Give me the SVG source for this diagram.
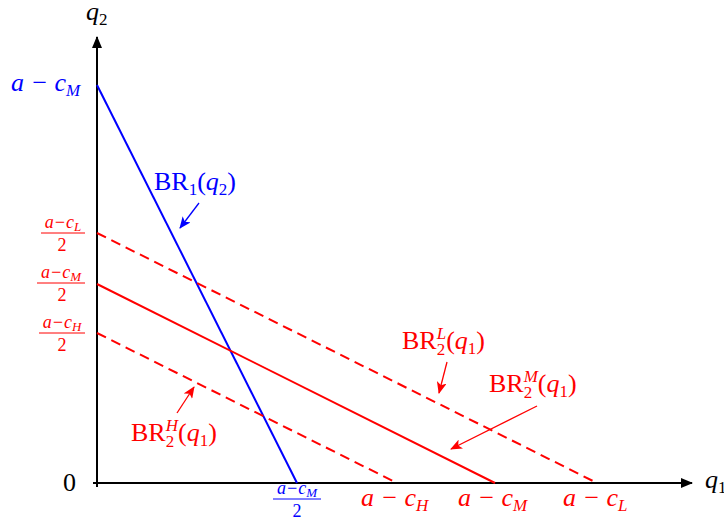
<svg xmlns="http://www.w3.org/2000/svg" width="724" height="522" viewBox="0 0 724 522">
<style>
text{font-family:"Liberation Serif","DejaVu Serif",serif;font-size:26px}
.it{font-style:italic}
.s{font-size:17px}
.r{fill:#ff0000}
.b{fill:#0000ff}
.k{fill:#000}
.fr{font-size:18px}
.fs{font-size:13px}
</style>
<defs>
<marker id="ax" markerWidth="12" markerHeight="10" refX="11" refY="5" orient="auto" markerUnits="userSpaceOnUse">
<path d="M0,0 L12,5 L0,10 Z" fill="#000"/>
</marker>
<marker id="ar" markerWidth="12" markerHeight="10" refX="11" refY="5" orient="auto" markerUnits="userSpaceOnUse">
<path d="M0,0 L12,5 L0,10 L3,5 Z" fill="#ff0000"/>
</marker>
<marker id="ab" markerWidth="12" markerHeight="10" refX="11" refY="5" orient="auto" markerUnits="userSpaceOnUse">
<path d="M0,0 L12,5 L0,10 L3,5 Z" fill="#0000ff"/>
</marker>
</defs>
<rect width="724" height="522" fill="#fff"/>

<g id="axes">
<line x1="93" y1="483" x2="692" y2="483" stroke="#000" stroke-width="2" marker-end="url(#ax)"/>
<line x1="97" y1="487" x2="97" y2="37" stroke="#000" stroke-width="2" marker-end="url(#ax)"/>
<text x="86" y="20" class="it k" font-size="22">q<tspan class="s" dy="5" font-style="normal">2</tspan></text>
<text x="705" y="488" class="it k" font-size="22">q<tspan class="s" dy="5" font-style="normal">1</tspan></text>
<text x="63" y="491" class="k" font-size="22">0</text>
</g>

<g id="connectors">
<line id="br1" x1="97" y1="85" x2="297" y2="483" stroke="#0000ff" stroke-width="2"/>
<line id="br2M" x1="97" y1="284" x2="495" y2="483" stroke="#ff0000" stroke-width="2"/>
<line id="br2L" x1="97" y1="233" x2="597" y2="483" stroke="#ff0000" stroke-width="2" stroke-dasharray="10 6"/>
<line id="br2H" x1="97" y1="333" x2="397" y2="483" stroke="#ff0000" stroke-width="2" stroke-dasharray="10 6"/>
<line x1="199" y1="203" x2="180" y2="228" stroke="#0000ff" stroke-width="1.3" marker-end="url(#ab)"/>
<line x1="447" y1="362" x2="439" y2="393" stroke="#ff0000" stroke-width="1.3" marker-end="url(#ar)"/>
<line x1="537" y1="406" x2="451" y2="449" stroke="#ff0000" stroke-width="1.3" marker-end="url(#ar)"/>
<line x1="177" y1="413" x2="194" y2="387" stroke="#ff0000" stroke-width="1.3" marker-end="url(#ar)"/>
</g>

<g id="label-aM-y">
<text x="11" y="91" class="it b">a − c<tspan class="s" dy="5">M</tspan></text>
</g>

<g id="label-frac-L">
<text x="63" y="228" text-anchor="middle" class="it r fr">a−c<tspan class="fs" dy="3">L</tspan></text>
<line x1="41" y1="233" x2="85" y2="233" stroke="#ff0000" stroke-width="1"/>
<text x="62" y="251" text-anchor="middle" class="r fr">2</text>
</g>
<g id="label-frac-M">
<text x="61" y="278" text-anchor="middle" class="it r fr">a−c<tspan class="fs" dy="3">M</tspan></text>
<line x1="37" y1="283" x2="85" y2="283" stroke="#ff0000" stroke-width="1"/>
<text x="62" y="301" text-anchor="middle" class="r fr">2</text>
</g>
<g id="label-frac-H">
<text x="62" y="328" text-anchor="middle" class="it r fr">a−c<tspan class="fs" dy="3">H</tspan></text>
<line x1="39" y1="333" x2="85" y2="333" stroke="#ff0000" stroke-width="1"/>
<text x="62" y="351" text-anchor="middle" class="r fr">2</text>
</g>

<g id="label-frac-M-x">
<text x="297" y="494" text-anchor="middle" class="it b fr">a−c<tspan class="fs" dy="3">M</tspan></text>
<line x1="273" y1="499" x2="321" y2="499" stroke="#0000ff" stroke-width="1"/>
<text x="297" y="517" text-anchor="middle" class="b fr">2</text>
</g>
<g id="label-aH-x"><text x="361" y="506" class="it r">a − c<tspan class="s" dy="5">H</tspan></text></g>
<g id="label-aM-x"><text x="458" y="506" class="it r">a − c<tspan class="s" dy="5">M</tspan></text></g>
<g id="label-aL-x"><text x="563" y="506" class="it r">a − c<tspan class="s" dy="5">L</tspan></text></g>

<g id="label-BR1">
<text x="154" y="190" class="b">BR<tspan class="s" dy="5">1</tspan><tspan dy="-5">(</tspan><tspan class="it">q</tspan><tspan class="s" dy="5">2</tspan><tspan dy="-5">)</tspan></text>
</g>
<g id="label-BR2L">
<text x="402" y="349" class="r">BR<tspan class="s" dy="6">2</tspan><tspan class="s it" dx="-8.5" dy="-16">L</tspan><tspan dy="10">(</tspan><tspan class="it">q</tspan><tspan class="s" dy="5">1</tspan><tspan dy="-5">)</tspan></text>
</g>
<g id="label-BR2M">
<text x="489" y="392" class="r">BR<tspan class="s" dy="6">2</tspan><tspan class="s it" dx="-8.5" dy="-16">M</tspan><tspan dy="10">(</tspan><tspan class="it">q</tspan><tspan class="s" dy="5">1</tspan><tspan dy="-5">)</tspan></text>
</g>
<g id="label-BR2H">
<text x="131" y="441" class="r">BR<tspan class="s" dy="6">2</tspan><tspan class="s it" dx="-8.5" dy="-16">H</tspan><tspan dy="10">(</tspan><tspan class="it">q</tspan><tspan class="s" dy="5">1</tspan><tspan dy="-5">)</tspan></text>
</g>
</svg>
